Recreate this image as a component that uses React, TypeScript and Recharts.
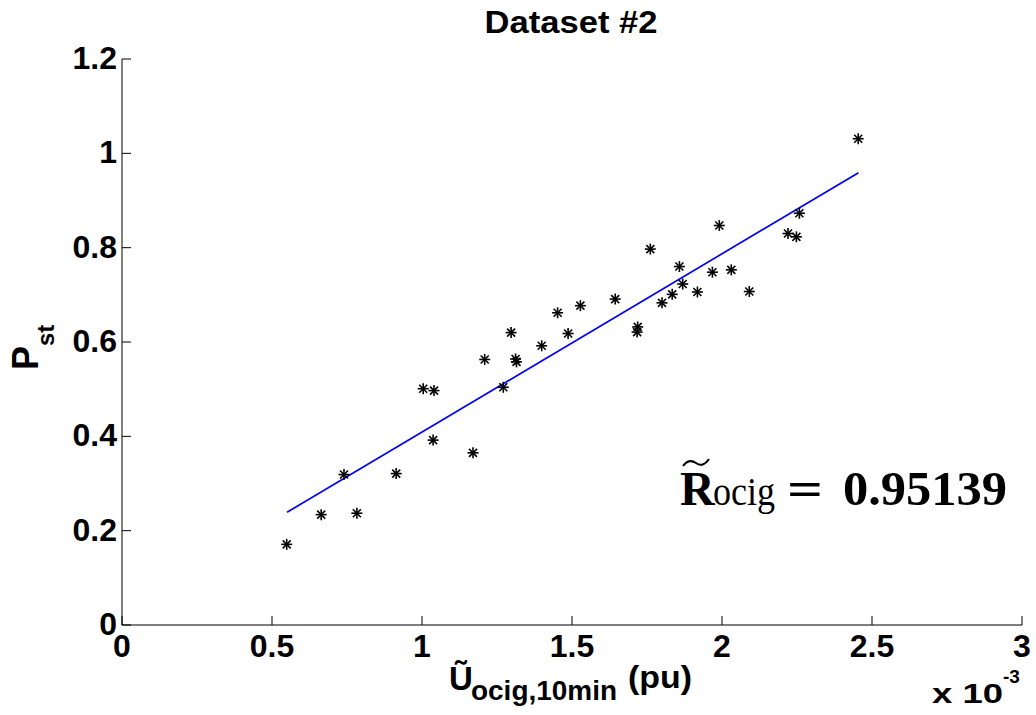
import React from 'react';
import { ScatterChart, Scatter, XAxis, YAxis } from 'recharts';

// measured values, x in units of 1e-3 pu
const uOcig = [
  0.549, 0.664, 0.74, 0.783, 0.914, 1.004, 1.04, 1.037, 1.17, 1.209, 1.271, 1.297,
  1.312, 1.315, 1.399, 1.452, 1.487, 1.528, 1.644, 1.719, 1.717, 1.761, 1.8, 1.834,
  1.858, 1.869, 1.918, 1.968, 1.991, 2.031, 2.091, 2.22, 2.248, 2.258, 2.454,
];
const pSt = [
  0.171, 0.234, 0.319, 0.237, 0.321, 0.501, 0.497, 0.392, 0.365, 0.563, 0.504, 0.62,
  0.564, 0.558, 0.592, 0.662, 0.618, 0.677, 0.691, 0.632, 0.621, 0.797, 0.683, 0.701,
  0.76, 0.723, 0.706, 0.748, 0.847, 0.753, 0.707, 0.83, 0.823, 0.873, 1.031,
];

// regression line end points
const fitX = [0.55, 2.455];
const fitY = [0.239, 0.959];

const xTicks = [0, 0.5, 1, 1.5, 2, 2.5, 3];
const yTicks = [0, 0.2, 0.4, 0.6, 0.8, 1, 1.2];

const points = uOcig.map((u, i) => ({ x: u, y: pSt[i] }));
const fitLine = fitX.map((u, i) => ({ x: u, y: fitY[i] }));

const SANS = 'Liberation Sans, Arial, Helvetica, sans-serif';
const SERIF = 'Liberation Serif, Times New Roman, serif';

// MATLAB style '*' marker
const Star = (props: any) => {
  const { cx, cy } = props;
  if (cx == null || cy == null) return <g />;
  const r = 5.5;
  const d = 4;
  return (
    <g stroke="#000" strokeWidth={1.6}>
      <line x1={cx - r} y1={cy} x2={cx + r} y2={cy} />
      <line x1={cx} y1={cy - r} x2={cx} y2={cy + r} />
      <line x1={cx - d} y1={cy - d} x2={cx + d} y2={cy + d} />
      <line x1={cx - d} y1={cy + d} x2={cx + d} y2={cy - d} />
    </g>
  );
};

const NoDot = () => <g />;

// ticks point inward, like MATLAB
const XTick = (props: any) => {
  const { x, y, payload } = props;
  return (
    <g>
      <line x1={x} x2={x} y1={y} y2={y - 9} stroke="#000" />
      <text x={x} y={y + 32} textAnchor="middle" fontFamily={SANS} fontWeight="bold" fontSize={32} fill="#000">
        {payload.value}
      </text>
    </g>
  );
};

const YTick = (props: any) => {
  const { x, y, payload } = props;
  return (
    <g>
      <line x1={x} x2={x + 9} y1={y} y2={y} stroke="#000" />
      <text x={x - 5} y={y + 10} textAnchor="end" fontFamily={SANS} fontWeight="bold" fontSize={32} fill="#000">
        {payload.value}
      </text>
    </g>
  );
};

export default function App() {
  return (
    <div style={{ position: 'absolute', left: 0, top: 0, width: 1036, height: 715, background: '#fff' }}>
      <ScatterChart width={1036} height={715} margin={{ top: 59, right: 14, left: 0, bottom: 0 }}>
        <XAxis
          type="number"
          dataKey="x"
          domain={[0, 3]}
          ticks={xTicks}
          interval={0}
          height={90}
          tickSize={0}
          tickMargin={0}
          tickLine={false}
          axisLine={{ stroke: '#000' }}
          tick={<XTick />}
        />
        <YAxis
          type="number"
          dataKey="y"
          domain={[0, 1.2]}
          ticks={yTicks}
          interval={0}
          width={122}
          tickSize={0}
          tickMargin={0}
          tickLine={false}
          axisLine={{ stroke: '#000' }}
          tick={<YTick />}
        />
        <Scatter
          data={fitLine}
          line={{ stroke: '#0000ff', strokeWidth: 1.7 }}
          shape={<NoDot />}
          isAnimationActive={false}
        />
        <Scatter data={points} shape={<Star />} isAnimationActive={false} />
      </ScatterChart>

      <svg
        width={1036}
        height={715}
        style={{ position: 'absolute', left: 0, top: 0, pointerEvents: 'none' }}
      >
        <text
          x={571}
          y={33}
          textAnchor="middle"
          textLength={173}
          lengthAdjust="spacingAndGlyphs"
          fontFamily={SANS}
          fontWeight="bold"
          fontSize={31}
          fill="#000"
        >
          Dataset #2
        </text>

        {/* y label P_st */}
        <text transform="translate(38,370) rotate(-90)" fontFamily={SANS} fontWeight="bold" fill="#000">
          <tspan fontSize={36}>P</tspan>
          <tspan fontSize={24} dy={16}>st</tspan>
        </text>

        {/* x label */}
        <text x={449} y={690} fontFamily={SANS} fontWeight="bold" fontSize={33} fill="#000">Ũ</text>
        <text x={471} y={700} textLength={146} lengthAdjust="spacingAndGlyphs" fontFamily={SANS} fontWeight="bold" fontSize={27} fill="#000">ocig,10min</text>
        <text x={628} y={688} textLength={64} lengthAdjust="spacingAndGlyphs" fontFamily={SANS} fontWeight="bold" fontSize={31} fill="#000">(pu)</text>

        <text x={932} y={703} textLength={71} lengthAdjust="spacingAndGlyphs" fontFamily={SANS} fontWeight="bold" fontSize={28} fill="#000">x 10</text>
        <text x={1003} y={683} fontFamily={SANS} fontWeight="bold" fontSize={19} fill="#000">-3</text>

        {/* correlation annotation */}
        <path d="M683,466 q6,-8 13,-3 t13,-4" stroke="#000" strokeWidth={2} fill="none" />
        <text x={680} y={505} fontFamily={SERIF} fontWeight="bold" fontSize={48} fill="#000">R</text>
        <text x={713} y={505} textLength={62} lengthAdjust="spacingAndGlyphs" fontFamily={SERIF} fontSize={40} fill="#000">ocig</text>
        <text x={787} y={505} textLength={36} lengthAdjust="spacingAndGlyphs" fontFamily={SERIF} fontWeight="bold" fontSize={48} fill="#000">=</text>
        <text x={843} y={505} textLength={164} lengthAdjust="spacingAndGlyphs" fontFamily={SERIF} fontWeight="bold" fontSize={49} fill="#000">0.95139</text>
      </svg>
    </div>
  );
}
